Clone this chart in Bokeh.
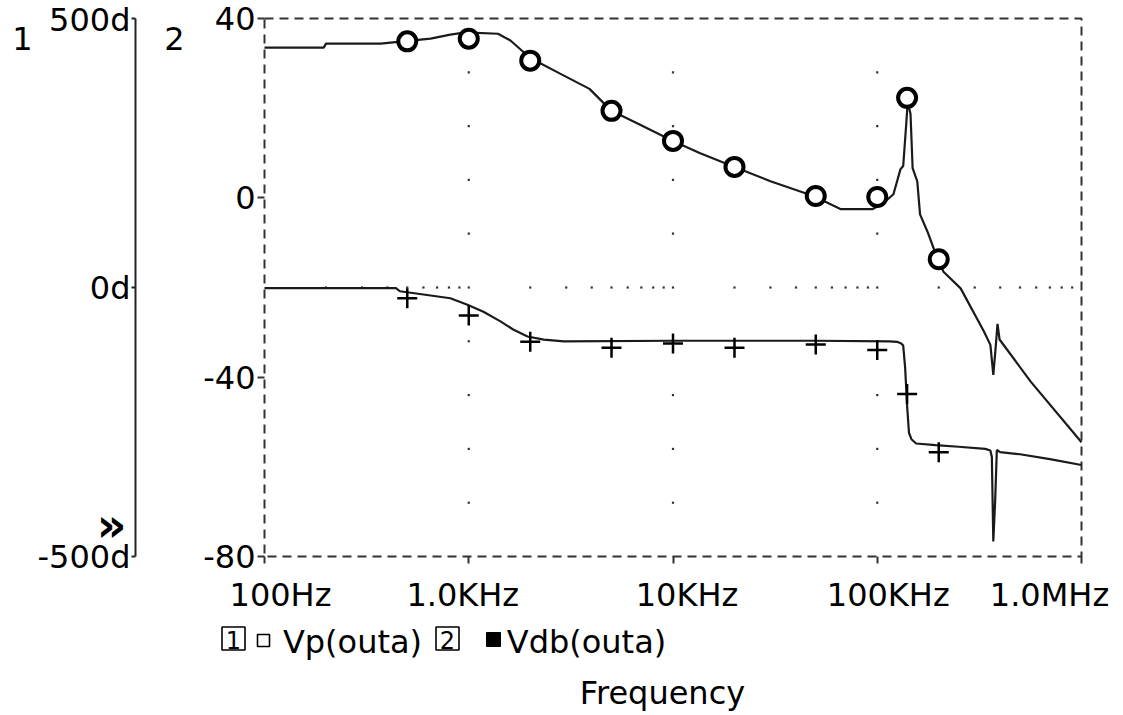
import math
from bokeh.plotting import figure
from bokeh.models import Range1d, LinearAxis, LogAxis, FixedTicker, Label
from bokeh.embed import file_html
from bokeh.resources import INLINE

FONT = "DejaVu Sans"
FS = "32px"
INK = "#1a1a1a"

# ---------------- data ----------------
# Trace 2: Vdb(outa) in dB
vdb_freq = [100, 195, 200, 370, 463, 650, 813, 963, 1390, 1600, 2000, 2800, 3900,
            5000, 6900, 10000, 13500, 20000, 30000, 48700, 66000, 95000, 107000,
            120000, 130000, 134000, 139000, 141000, 145500, 149000, 157000, 162000,
            176000, 189000, 211000, 256000, 333000, 358000, 370000, 379000, 388000,
            397000, 564000, 1000000]
vdb_vals = [33.5, 33.5, 34.4, 34.4, 34.85, 35.5, 36.4, 36.9, 36.6, 35.1, 31.2, 27.7,
            24.3, 19.4, 16.3, 12.7, 10.0, 6.9, 3.7, 0.4, -2.5, -2.5, -1.2, 0.8, 6.4,
            7.1, 17.2, 21.5, 18.7, 6.6, 3.7, -3.7, -7.5, -11.3, -16.5, -20.2, -29.8,
            -32.8, -39.5, -34.0, -28.1, -31.6, -41.0, -54.5]

# Trace 1: Vp(outa) in degrees
vp_freq = [100, 440, 460, 600, 813, 985, 1180, 1430, 1650, 1940, 2330, 2920, 10000,
           50000, 115000, 125000, 131000, 134000, 137000, 140000, 143000, 147000,
           155000, 193000, 250000, 338000, 358000, 364000, 370000, 378000, 385000,
           400000, 500000, 700000, 1000000]
vp_vals = [-1, -1, -7, -13, -20, -32, -45, -63, -78, -91, -97, -100, -99, -99, -100,
           -101, -104, -108, -150, -220, -270, -282, -290, -293, -296, -300, -303,
           -315, -472, -395, -302, -306, -310, -319, -330]

# marker points
marker_freq = [500, 1000, 2000, 5000, 10000, 20000, 50000, 100000, 140000, 200000]
vdb_marks = [34.9, 35.5, 30.6, 19.4, 12.7, 6.9, 0.4, 0.2, 22.3, -13.7]
vp_marks = [-20, -52, -101, -112, -104, -112, -106, -116, -198, -306]

# axes
x_ticks = [100, 1000, 10000, 100000, 1000000]
x_tick_labels = ["100Hz", "1.0KHz", "10KHz", "100KHz", "1.0MHz"]
db_ticks = [-80, -40, 0, 40]
db_tick_labels = ["-80", "-40", "0", "40"]
phase_ticks = [-500, 0, 500]
phase_tick_labels = ["-500d", "0d", "500d"]
phase_grid = [-400, -300, -200, -100, 100, 200, 300, 400]
legend_names = ["Vp(outa)", "Vdb(outa)"]
x_title = "Frequency"

# ---------------- layout (pixels) ----------------
W, H = 1120, 712
FL, FR, FT, FB = 264, 1081, 18, 556          # plot box edges
DEC = (FR - FL) / math.log10(x_ticks[-1] / x_ticks[0])
DB_PX = (db_ticks[-1] - db_ticks[0]) / (FB - FT)
PH_PX = (phase_ticks[-1] - phase_ticks[0]) / (FB - FT)

def X(px):
    return x_ticks[0] * 10 ** ((px - FL) / DEC)

def Y(py):
    return db_ticks[-1] - (py - FT) * DB_PX

x_rng = Range1d(X(0), X(W))
y_rng = Range1d(Y(H), Y(0))
ph_rng = Range1d(phase_ticks[-1] - (H - FT) * PH_PX, phase_ticks[-1] + FT * PH_PX)

p = figure(width=W, height=H, x_axis_type="log", x_range=x_rng, y_range=y_rng,
           x_axis_location=None, y_axis_location=None,
           output_backend="svg", toolbar_location=None, min_border=0)
p.extra_y_ranges = {"phase": ph_rng}
p.grid.visible = False
p.background_fill_color = "white"
p.border_fill_color = "white"
p.outline_line_color = None

# dashed plot box
p.quad(left=[x_ticks[0]], right=[x_ticks[-1]], bottom=[db_ticks[0]], top=[db_ticks[-1]],
       fill_color=None, line_color="#333333", line_width=2, line_dash="9 6")

# x axis (ticks only, labels placed below)
xa = LogAxis(fixed_location=db_ticks[0], ticker=FixedTicker(ticks=x_ticks))
xa.axis_line_color = None
xa.major_tick_out = 7
xa.major_tick_in = 0
xa.major_tick_line_width = 2
xa.major_tick_line_color = "#333333"
xa.minor_tick_line_color = None
xa.major_label_text_font_size = "12px"
xa.major_label_text_alpha = 0
p.add_layout(xa, "below")

# axis 2 (dB)
ya = LinearAxis(fixed_location=x_ticks[0], ticker=FixedTicker(ticks=db_ticks),
                bounds=(db_ticks[0], db_ticks[-1]))
ya.major_label_overrides = {t: s for t, s in zip(db_ticks, db_tick_labels)}
ya.axis_line_color = None
ya.major_tick_out = 7
ya.major_tick_in = 0
ya.major_tick_line_width = 2
ya.major_tick_line_color = "#333333"
ya.minor_tick_line_color = None
ya.major_label_standoff = 2
ya.major_label_text_font = FONT
ya.major_label_text_font_size = FS
ya.major_label_text_color = "black"
ya.major_label_text_align = "right"
p.add_layout(ya, "left")

# axis 1 (phase)
pa = LinearAxis(y_range_name="phase", fixed_location=X(135),
                ticker=FixedTicker(ticks=phase_ticks),
                bounds=(phase_ticks[0], phase_ticks[-1]))
pa.major_label_overrides = {t: s for t, s in zip(phase_ticks, phase_tick_labels)}
pa.axis_line_color = "#222222"
pa.axis_line_width = 2
pa.major_tick_out = 4
pa.major_tick_in = 0
pa.major_tick_line_width = 2
pa.major_tick_line_color = "#222222"
pa.minor_tick_line_color = None
pa.major_label_standoff = 1
pa.major_label_text_font = FONT
pa.major_label_text_font_size = FS
pa.major_label_text_color = "black"
pa.major_label_text_align = "right"
p.add_layout(pa, "left")

# dotted grid (phase axis divisions)
gx, gy = [], []
for dec in x_ticks[1:-1]:
    for v in phase_grid:
        gx.append(dec)
        gy.append(v)
for dec in x_ticks[:-1]:
    for m in range(1, 10):
        f = dec * m
        if f > x_ticks[0]:
            gx.append(f)
            gy.append(0)
p.scatter(gx, gy, y_range_name="phase", marker="square", size=2.2,
          line_color=None, fill_color="#333333")

# traces
p.line(vdb_freq, vdb_vals, line_color=INK, line_width=2.2)
p.line(vp_freq, vp_vals, line_color=INK, line_width=2.2, y_range_name="phase")
p.scatter(marker_freq, vdb_marks, marker="circle", size=18, line_width=4,
          line_color="black", fill_color="white")
p.scatter(marker_freq, vp_marks, marker="cross", size=20, line_width=2.5,
          line_color="black", y_range_name="phase")

def txt(px, py, s, align="center", size=FS, style="normal"):
    p.add_layout(Label(x=X(px), y=Y(py), text=s, text_align=align,
                       text_baseline="middle", text_font=FONT,
                       text_font_size=size, text_font_style=style,
                       text_color="black"))

# x tick labels (PSpice nudges first/last labels to stay inside)
x_label_nudge = [16, -6, 14, 11, -32]
for t, s, n in zip(x_ticks, x_tick_labels, x_label_nudge):
    p.add_layout(Label(x=t, y=db_ticks[0], x_offset=n, y_offset=-38, text=s,
                       text_align="center", text_baseline="middle",
                       text_font=FONT, text_font_size=FS, text_color="black"))

# axis numbers and overflow mark
txt(22, 38, "1")
txt(174, 38, "2")
txt(111, 524, "\u00bb", size="46px", style="bold")

# legend
p.rect(x=[X(233), X(447)], y=[Y(638), Y(638)], width=23, height=23,
       width_units="screen", height_units="screen",
       fill_color=None, line_color="black", line_width=1.6)
txt(233, 639, "1", size="24px")
txt(447, 639, "2", size="24px")
p.rect(x=[X(263)], y=[Y(640)], width=12, height=12, width_units="screen",
       height_units="screen", fill_color=None, line_color="black", line_width=1.6)
p.rect(x=[X(493)], y=[Y(639)], width=14, height=14, width_units="screen",
       height_units="screen", fill_color="black", line_color="black", line_width=1)
txt(352, 641, legend_names[0])
txt(586, 641, legend_names[1])

# x title
txt(662, 692, x_title)

open("out.html", "w").write(file_html(p, INLINE))
